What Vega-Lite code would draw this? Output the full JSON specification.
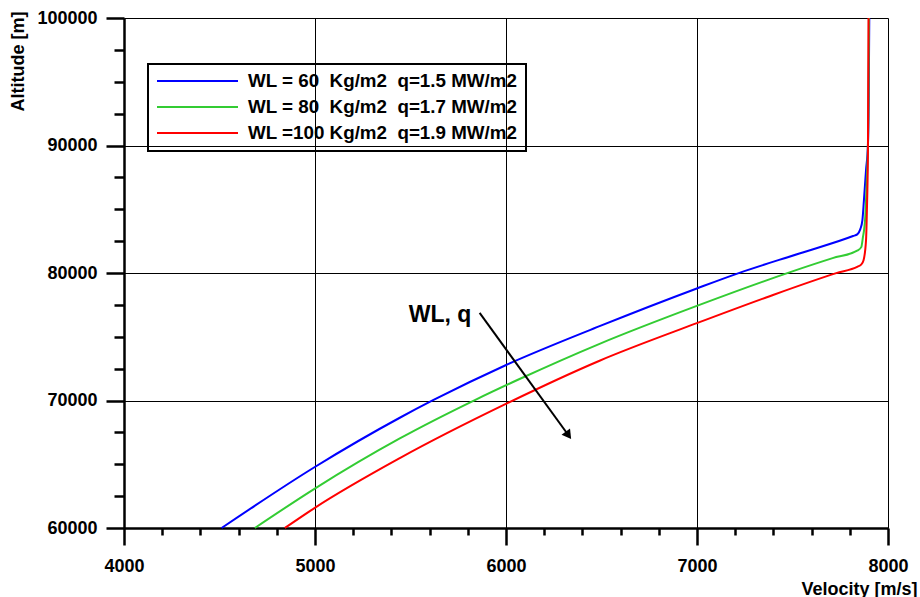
{
  "$schema": "https://vega.github.io/schema/vega-lite/v6.json",
  "width": 764,
  "height": 510,
  "autosize": {"type": "none"},
  "padding": {"left": 124, "top": 18, "right": 32, "bottom": 69},
  "background": "white",
  "config": {"view": {"stroke": null}, "font": "Liberation Sans"},
  "datasets": {
    "curves": [
      {"series": "WL = 60\u00a0\u00a0Kg/m2\u00a0\u00a0q=1.5 MW/m2", "ord": 1, "v": 4511, "alt": 60000},
      {"series": "WL = 60\u00a0\u00a0Kg/m2\u00a0\u00a0q=1.5 MW/m2", "ord": 2, "v": 4999, "alt": 64786},
      {"series": "WL = 60\u00a0\u00a0Kg/m2\u00a0\u00a0q=1.5 MW/m2", "ord": 3, "v": 5444, "alt": 68647},
      {"series": "WL = 60\u00a0\u00a0Kg/m2\u00a0\u00a0q=1.5 MW/m2", "ord": 4, "v": 5618, "alt": 70021},
      {"series": "WL = 60\u00a0\u00a0Kg/m2\u00a0\u00a0q=1.5 MW/m2", "ord": 5, "v": 5998, "alt": 72767},
      {"series": "WL = 60\u00a0\u00a0Kg/m2\u00a0\u00a0q=1.5 MW/m2", "ord": 6, "v": 6490, "alt": 75828},
      {"series": "WL = 60\u00a0\u00a0Kg/m2\u00a0\u00a0q=1.5 MW/m2", "ord": 7, "v": 6999, "alt": 78787},
      {"series": "WL = 60\u00a0\u00a0Kg/m2\u00a0\u00a0q=1.5 MW/m2", "ord": 8, "v": 7222, "alt": 80011},
      {"series": "WL = 60\u00a0\u00a0Kg/m2\u00a0\u00a0q=1.5 MW/m2", "ord": 9, "v": 7536, "alt": 81534},
      {"series": "WL = 60\u00a0\u00a0Kg/m2\u00a0\u00a0q=1.5 MW/m2", "ord": 10, "v": 7817, "alt": 82900},
      {"series": "WL = 60\u00a0\u00a0Kg/m2\u00a0\u00a0q=1.5 MW/m2", "ord": 11, "v": 7839, "alt": 83030},
      {"series": "WL = 60\u00a0\u00a0Kg/m2\u00a0\u00a0q=1.5 MW/m2", "ord": 12, "v": 7855, "alt": 83441},
      {"series": "WL = 60\u00a0\u00a0Kg/m2\u00a0\u00a0q=1.5 MW/m2", "ord": 13, "v": 7866, "alt": 84147},
      {"series": "WL = 60\u00a0\u00a0Kg/m2\u00a0\u00a0q=1.5 MW/m2", "ord": 14, "v": 7874, "alt": 85717},
      {"series": "WL = 60\u00a0\u00a0Kg/m2\u00a0\u00a0q=1.5 MW/m2", "ord": 15, "v": 7885, "alt": 88071},
      {"series": "WL = 60\u00a0\u00a0Kg/m2\u00a0\u00a0q=1.5 MW/m2", "ord": 16, "v": 7895, "alt": 90033},
      {"series": "WL = 60\u00a0\u00a0Kg/m2\u00a0\u00a0q=1.5 MW/m2", "ord": 17, "v": 7899, "alt": 93565},
      {"series": "WL = 60\u00a0\u00a0Kg/m2\u00a0\u00a0q=1.5 MW/m2", "ord": 18, "v": 7902, "alt": 100000},
      {"series": "WL = 80\u00a0\u00a0Kg/m2\u00a0\u00a0q=1.7 MW/m2", "ord": 1, "v": 4685, "alt": 60000},
      {"series": "WL = 80\u00a0\u00a0Kg/m2\u00a0\u00a0q=1.7 MW/m2", "ord": 2, "v": 4999, "alt": 63092},
      {"series": "WL = 80\u00a0\u00a0Kg/m2\u00a0\u00a0q=1.7 MW/m2", "ord": 3, "v": 5444, "alt": 67023},
      {"series": "WL = 80\u00a0\u00a0Kg/m2\u00a0\u00a0q=1.7 MW/m2", "ord": 4, "v": 5845, "alt": 70091},
      {"series": "WL = 80\u00a0\u00a0Kg/m2\u00a0\u00a0q=1.7 MW/m2", "ord": 5, "v": 6071, "alt": 71685},
      {"series": "WL = 80\u00a0\u00a0Kg/m2\u00a0\u00a0q=1.7 MW/m2", "ord": 6, "v": 6490, "alt": 74447},
      {"series": "WL = 80\u00a0\u00a0Kg/m2\u00a0\u00a0q=1.7 MW/m2", "ord": 7, "v": 6999, "alt": 77421},
      {"series": "WL = 80\u00a0\u00a0Kg/m2\u00a0\u00a0q=1.7 MW/m2", "ord": 8, "v": 7492, "alt": 80090},
      {"series": "WL = 80\u00a0\u00a0Kg/m2\u00a0\u00a0q=1.7 MW/m2", "ord": 9, "v": 7710, "alt": 81165},
      {"series": "WL = 80\u00a0\u00a0Kg/m2\u00a0\u00a0q=1.7 MW/m2", "ord": 10, "v": 7841, "alt": 81769},
      {"series": "WL = 80\u00a0\u00a0Kg/m2\u00a0\u00a0q=1.7 MW/m2", "ord": 11, "v": 7860, "alt": 82028},
      {"series": "WL = 80\u00a0\u00a0Kg/m2\u00a0\u00a0q=1.7 MW/m2", "ord": 12, "v": 7868, "alt": 82734},
      {"series": "WL = 80\u00a0\u00a0Kg/m2\u00a0\u00a0q=1.7 MW/m2", "ord": 13, "v": 7881, "alt": 84406},
      {"series": "WL = 80\u00a0\u00a0Kg/m2\u00a0\u00a0q=1.7 MW/m2", "ord": 14, "v": 7889, "alt": 87286},
      {"series": "WL = 80\u00a0\u00a0Kg/m2\u00a0\u00a0q=1.7 MW/m2", "ord": 15, "v": 7895, "alt": 90033},
      {"series": "WL = 80\u00a0\u00a0Kg/m2\u00a0\u00a0q=1.7 MW/m2", "ord": 16, "v": 7898, "alt": 93565},
      {"series": "WL = 80\u00a0\u00a0Kg/m2\u00a0\u00a0q=1.7 MW/m2", "ord": 17, "v": 7900, "alt": 100000},
      {"series": "WL =100 Kg/m2\u00a0\u00a0q=1.9 MW/m2", "ord": 1, "v": 4842, "alt": 60000},
      {"series": "WL =100 Kg/m2\u00a0\u00a0q=1.9 MW/m2", "ord": 2, "v": 4999, "alt": 61585},
      {"series": "WL =100 Kg/m2\u00a0\u00a0q=1.9 MW/m2", "ord": 3, "v": 5444, "alt": 65484},
      {"series": "WL =100 Kg/m2\u00a0\u00a0q=1.9 MW/m2", "ord": 4, "v": 6002, "alt": 69754},
      {"series": "WL =100 Kg/m2\u00a0\u00a0q=1.9 MW/m2", "ord": 5, "v": 6490, "alt": 73121},
      {"series": "WL =100 Kg/m2\u00a0\u00a0q=1.9 MW/m2", "ord": 6, "v": 6999, "alt": 76064},
      {"series": "WL =100 Kg/m2\u00a0\u00a0q=1.9 MW/m2", "ord": 7, "v": 7362, "alt": 78081},
      {"series": "WL =100 Kg/m2\u00a0\u00a0q=1.9 MW/m2", "ord": 8, "v": 7729, "alt": 79988},
      {"series": "WL =100 Kg/m2\u00a0\u00a0q=1.9 MW/m2", "ord": 9, "v": 7841, "alt": 80506},
      {"series": "WL =100 Kg/m2\u00a0\u00a0q=1.9 MW/m2", "ord": 10, "v": 7859, "alt": 80655},
      {"series": "WL =100 Kg/m2\u00a0\u00a0q=1.9 MW/m2", "ord": 11, "v": 7872, "alt": 81008},
      {"series": "WL =100 Kg/m2\u00a0\u00a0q=1.9 MW/m2", "ord": 12, "v": 7885, "alt": 82578},
      {"series": "WL =100 Kg/m2\u00a0\u00a0q=1.9 MW/m2", "ord": 13, "v": 7890, "alt": 85191},
      {"series": "WL =100 Kg/m2\u00a0\u00a0q=1.9 MW/m2", "ord": 14, "v": 7895, "alt": 89641},
      {"series": "WL =100 Kg/m2\u00a0\u00a0q=1.9 MW/m2", "ord": 15, "v": 7898, "alt": 100000}
    ],
    "note": [{"v": 5491, "alt": 76166, "label": "WL, q"}],
    "arrow": [{"v": 5862, "alt": 76872, "v2": 6327, "alt2": 67274}],
    "head": [{"v": 6327, "alt": 67274}]
  },
  "encoding": {
    "x": {
      "field": "v", "type": "quantitative",
      "scale": {"domain": [4000, 8000], "nice": false, "zero": false},
      "axis": {
        "values": [4000,4200,4400,4600,4800,5000,5200,5400,5600,5800,6000,6200,6400,6600,6800,7000,7200,7400,7600,7800,8000],
        "format": "d",
        "labelExpr": "datum.value % 1000 === 0 ? datum.label : ''",
        "tickSize": {"condition": {"test": "datum.value % 1000 === 0", "value": 17}, "value": 7},
        "tickColor": "black", "tickWidth": 2.5,
        "domainColor": "black", "domainWidth": 2.5,
        "grid": true, "gridColor": "black", "gridWidth": 1,
        "gridOpacity": {"condition": {"test": "datum.value % 1000 === 0", "value": 1}, "value": 0},
        "labelFont": "Liberation Sans", "labelFontWeight": "bold", "labelFontSize": 18, "labelColor": "black",
        "labelPadding": 12, "labelFlush": false, "labelOverlap": false,
        "title": "Velocity [m/s]", "titleFont": "Liberation Sans", "titleFontSize": 18, "titleFontWeight": "bold", "titleColor": "black",
        "titleX": 793, "titleY": 66, "titleAlign": "right", "titleBaseline": "alphabetic"
      }
    },
    "y": {
      "field": "alt", "type": "quantitative",
      "scale": {"domain": [60000, 100000], "nice": false, "zero": false},
      "axis": {
        "values": [60000,62500,65000,67500,70000,72500,75000,77500,80000,82500,85000,87500,90000,92500,95000,97500,100000],
        "format": "d",
        "labelExpr": "datum.value % 10000 === 0 ? datum.label : ''",
        "tickSize": {"condition": {"test": "datum.value % 10000 === 0", "value": 18}, "value": 10},
        "tickColor": "black", "tickWidth": 2.5,
        "domainColor": "black", "domainWidth": 2.5,
        "grid": true, "gridColor": "black", "gridWidth": 1,
        "gridOpacity": {"condition": {"test": "datum.value % 10000 === 0", "value": 1}, "value": 0},
        "labelFont": "Liberation Sans", "labelFontWeight": "bold", "labelFontSize": 18, "labelColor": "black",
        "labelPadding": 9, "labelFlush": false, "labelOverlap": false,
        "title": "Altitude [m]", "titleFont": "Liberation Sans", "titleFontSize": 18, "titleFontWeight": "bold", "titleColor": "black",
        "titleAngle": -90, "titleX": -101, "titleY": 43, "titleAlign": "center", "titleBaseline": "alphabetic"
      }
    }
  },
  "layer": [
    {
      "data": {"name": "curves"},
      "mark": {"type": "line", "strokeWidth": 2, "interpolate": "monotone"},
      "encoding": {
        "order": {"field": "ord", "type": "quantitative"},
        "color": {
          "field": "series", "type": "nominal",
          "scale": {
            "domain": ["WL = 60\u00a0\u00a0Kg/m2\u00a0\u00a0q=1.5 MW/m2", "WL = 80\u00a0\u00a0Kg/m2\u00a0\u00a0q=1.7 MW/m2", "WL =100 Kg/m2\u00a0\u00a0q=1.9 MW/m2"],
            "range": ["#0000ff", "#33cc33", "#ff0000"]
          },
          "legend": {
            "orient": "none", "legendX": 24, "legendY": 46, "title": null,
            "symbolType": "stroke", "symbolSize": 6561, "symbolStrokeWidth": 2, "clipHeight": 18,
            "rowPadding": 7, "padding": 8, "strokeColor": "black",
            "labelFont": "Liberation Sans", "labelFontWeight": "bold", "labelFontSize": 18.8, "labelColor": "black",
            "labelLimit": 500, "labelOffset": 9,
            "encode": {"legend": {"update": {"strokeWidth": {"value": 2}}}}
          }
        }
      }
    },
    {
      "data": {"name": "note"},
      "mark": {"type": "text", "align": "left", "baseline": "alphabetic", "font": "Liberation Sans", "fontWeight": "bold", "fontSize": 23, "color": "black"},
      "encoding": {"text": {"field": "label"}}
    },
    {
      "data": {"name": "arrow"},
      "mark": {"type": "rule", "strokeWidth": 2, "color": "black"},
      "encoding": {"x2": {"field": "v2"}, "y2": {"field": "alt2"}}
    },
    {
      "data": {"name": "head"},
      "mark": {"type": "point", "shape": "triangle-up", "filled": true, "color": "black", "size": 110, "angle": 144, "opacity": 1}
    }
  ]
}
